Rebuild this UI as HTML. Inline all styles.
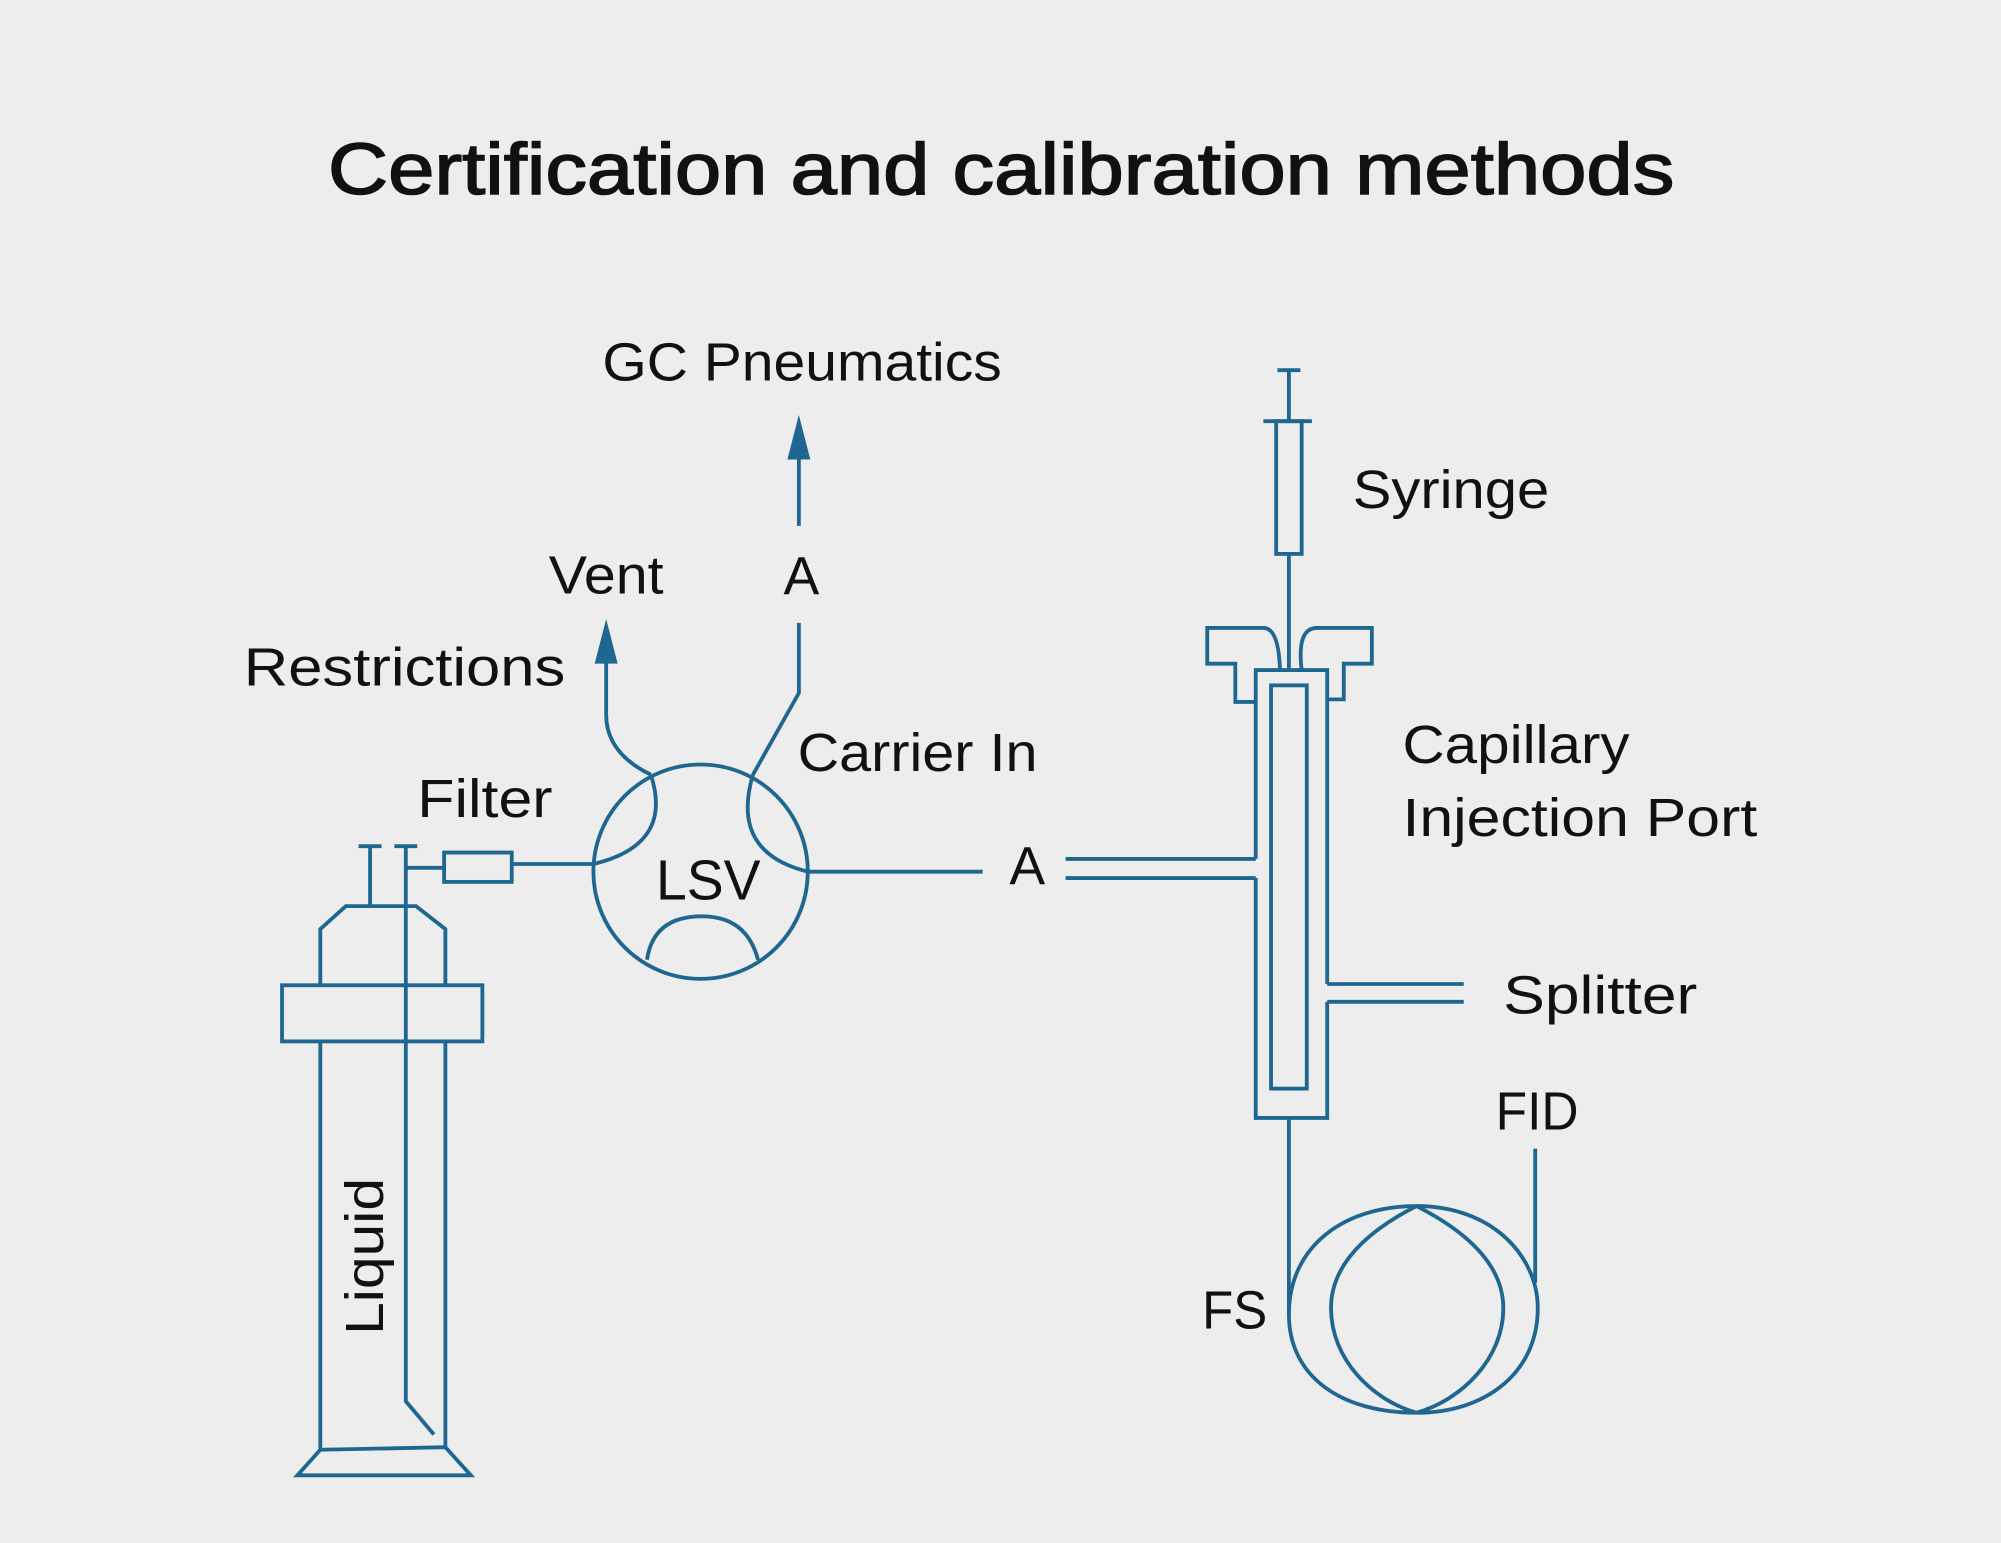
<!DOCTYPE html>
<html><head><meta charset="utf-8"><style>
html,body{margin:0;padding:0;background:#ededed;}
svg{display:block}
text{font-family:"Liberation Sans",sans-serif;fill:#111;}
</style></head><body>
<svg width="2001" height="1543" viewBox="0 0 1568 1209" xmlns="http://www.w3.org/2000/svg">
<rect width="1568" height="1209" fill="#ededed"/>
<text x="257" y="152" font-size="57" textLength="1055" lengthAdjust="spacingAndGlyphs" stroke="#111" stroke-width="1.2">Certification and calibration methods</text>
<g font-size="42">
<text x="472" y="298" textLength="313" lengthAdjust="spacingAndGlyphs">GC Pneumatics</text>
<text x="628" y="466" text-anchor="middle">A</text>
<text x="430" y="465" textLength="90" lengthAdjust="spacingAndGlyphs">Vent</text>
<text x="191" y="537" textLength="252" lengthAdjust="spacingAndGlyphs">Restrictions</text>
<text x="625" y="604" textLength="188" lengthAdjust="spacingAndGlyphs">Carrier In</text>
<text x="327" y="640" textLength="106" lengthAdjust="spacingAndGlyphs">Filter</text>
<text x="514" y="705" font-size="44" textLength="82" lengthAdjust="spacingAndGlyphs">LSV</text>
<text x="805" y="693" text-anchor="middle">A</text>
<text x="1060" y="398" textLength="154" lengthAdjust="spacingAndGlyphs">Syringe</text>
<text x="1099" y="598" textLength="178" lengthAdjust="spacingAndGlyphs">Capillary</text>
<text x="1099" y="655" textLength="278" lengthAdjust="spacingAndGlyphs">Injection Port</text>
<text x="1178" y="794" textLength="152" lengthAdjust="spacingAndGlyphs">Splitter</text>
<text x="1172" y="885" textLength="65" lengthAdjust="spacingAndGlyphs">FID</text>
<text x="942" y="1041" textLength="51" lengthAdjust="spacingAndGlyphs">FS</text>
<text transform="translate(300,1046) rotate(-90)" textLength="123" lengthAdjust="spacingAndGlyphs">Liquid</text>
</g>
<g fill="none" stroke="#1f6790" stroke-width="3" stroke-linejoin="miter">
<line x1="626" y1="412" x2="626" y2="356"/>
<path d="M626,488 L626,543 L590,607"/>
<path d="M475,518 L475,560 Q475,590 510,607"/>
<circle cx="549" cy="683" r="84"/>
<path d="M510,607 Q528,662 465,677"/>
<path d="M590,607 Q572,668 633,683"/>
<path d="M507,752 Q512,718 550,718 Q585,718 594,752"/>
<line x1="633" y1="683" x2="770" y2="683"/>
<rect x="348" y="668" width="53" height="23"/>
<line x1="401" y1="677" x2="465" y2="677"/>
<line x1="348" y1="680" x2="318" y2="680"/>
<line x1="290" y1="663" x2="290" y2="710"/>
<line x1="281" y1="663" x2="299" y2="663"/>
<path d="M318,663 L318,1098 L340,1124"/>
<line x1="309" y1="663" x2="327" y2="663"/>
<path d="M251,772 L251,728 L271,710 L326,710 L349,728 L349,772"/>
<rect x="221" y="772" width="157" height="44"/>
<line x1="251" y1="816" x2="251" y2="1136"/>
<line x1="349" y1="816" x2="349" y2="1134"/>
<path d="M251,1136 L349,1134 L369,1156 L233,1156 Z"/>
<line x1="1010" y1="290" x2="1010" y2="330"/>
<line x1="1001" y1="290" x2="1019" y2="290"/>
<line x1="990" y1="330" x2="1028" y2="330"/>
<rect x="1000" y="330" width="20" height="104"/>
<line x1="1010" y1="434" x2="1010" y2="525"/>
<path d="M1003,525 Q1002,492 990,492 L946,492 L946,520 L968,520 L968,550 L984,550"/>
<path d="M1020,525 Q1016,492 1032,492 L1075,492 L1075,520 L1053,520 L1053,548 L1040,548"/>
<path d="M984,673 L984,525 L1040,525 L1040,771 M1040,785 L1040,876 L984,876 L984,688"/>
<rect x="996" y="537" width="28" height="316"/>
<line x1="835" y1="673" x2="984" y2="673"/>
<line x1="835" y1="688" x2="984" y2="688"/>
<line x1="1040" y1="771" x2="1147" y2="771"/>
<line x1="1040" y1="785" x2="1147" y2="785"/>
<line x1="1010" y1="876" x2="1010" y2="1030"/>
<path d="M1010,1030 C1010,975 1055,945 1110,945 C1170,945 1205,985 1205,1025 C1205,1075 1165,1107 1110,1107 C1050,1107 1010,1078 1010,1030"/>
<path d="M1110,945 C1065,968 1043,995 1043,1025 C1043,1065 1075,1097 1110,1107"/>
<path d="M1110,945 C1155,968 1178,995 1178,1025 C1178,1065 1145,1097 1110,1107"/>
<line x1="1203" y1="900" x2="1203" y2="1005"/>
</g>
<g fill="#1f6790">
<polygon points="626,325 617,360 635,360"/>
<polygon points="475,485 466,520 484,520"/>
</g>
</svg>
</body></html>
